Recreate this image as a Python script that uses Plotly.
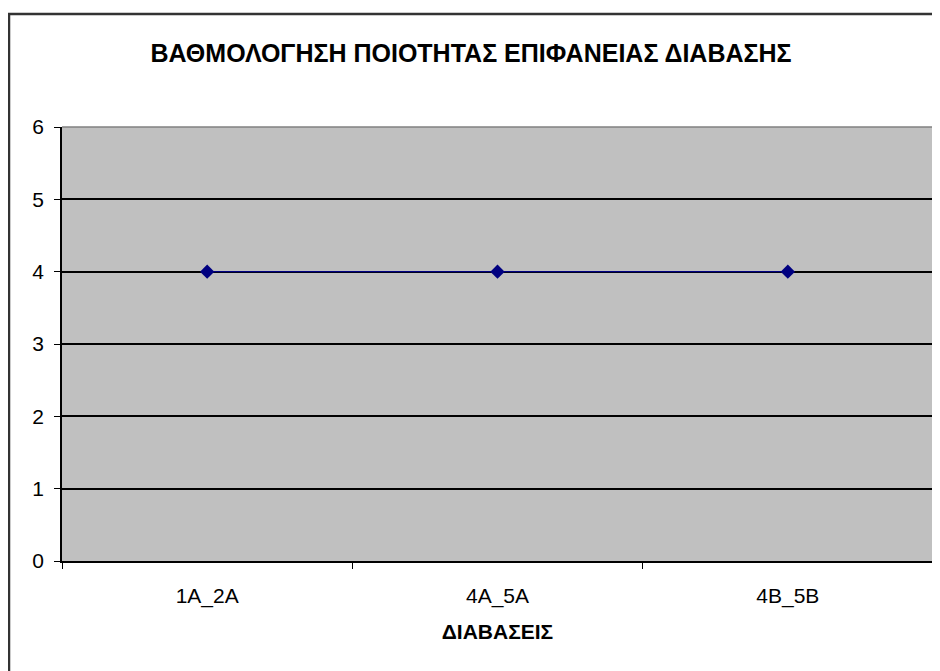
import plotly.graph_objects as go

categories = ["1A_2A", "4A_5A", "4B_5B"]
values = [4, 4, 4]
y_ticks = [0, 1, 2, 3, 4, 5, 6]

W, H = 940, 671
OFF = 7  # page offset of the figure in the browser
# plot area in page pixels: x 61..932, y 126..560
L = 61 - OFF
T = 126 - OFF
R = W - (932 - OFF)
B = H - (560 - OFF)
pw, ph = W - L - R, H - T - B

def px_x(x):
    return (x - OFF - L) / pw

def px_y(y):
    return 1 - (y - OFF - T) / ph

FONT = "Liberation Sans, Arial, sans-serif"

fig = go.Figure()
fig.add_trace(go.Scatter(
    x=categories, y=values, mode="lines+markers",
    line=dict(color="#000080", width=1.3),
    marker=dict(symbol="diamond", size=11, color="#000080"),
    showlegend=False,
))

fig.update_layout(
    width=W, height=H,
    margin=dict(l=L, r=R, t=T, b=B),
    paper_bgcolor="white",
    plot_bgcolor="#c0c0c0",
    font=dict(family=FONT, color="black", size=20),
    title=dict(
        text="<b>ΒΑΘΜΟΛΟΓΗΣΗ ΠΟΙΟΤΗΤΑΣ ΕΠΙΦΑΝΕΙΑΣ ΔΙΑΒΑΣΗΣ</b>",
        x=(470 - OFF) / W, xref="container", xanchor="center",
        y=1 - (52 - OFF) / H, yanchor="middle",
        font=dict(size=25, family=FONT, color="black"),
    ),
    xaxis=dict(
        type="category",
        range=[-0.5, 2.5],
        tickson="boundaries",
        ticks="outside", ticklen=6, tickcolor="black",
        showline=True, linecolor="black", linewidth=1.5,
        showgrid=False, zeroline=False,
        tickfont=dict(size=21),
        ticklabelstandoff=15,
        title=dict(text="<b>ΔΙΑΒΑΣΕΙΣ</b>", font=dict(size=21), standoff=17),
    ),
    yaxis=dict(
        range=[0, 6], tickvals=y_ticks,
        ticks="outside", ticklen=6, tickcolor="black",
        showline=True, linecolor="black", linewidth=1.5,
        showgrid=True, gridcolor="black", gridwidth=1.5,
        zeroline=False,
        tickfont=dict(size=21),
        ticklabelstandoff=6,
    ),
    shapes=[
        dict(type="line", xref="paper", yref="paper",
             x0=1, x1=1, y0=0, y1=1, line=dict(color="#808080", width=1.5)),
        dict(type="line", xref="paper", yref="paper",
             x0=0, x1=1, y0=1, y1=1, line=dict(color="#808080", width=1.5)),
        dict(type="rect", xref="paper", yref="paper",
             x0=px_x(8), x1=px_x(980), y0=px_y(720), y1=px_y(13),
             line=dict(color="#333333", width=2.5)),
    ],
)

fig.write_html("out.html")
